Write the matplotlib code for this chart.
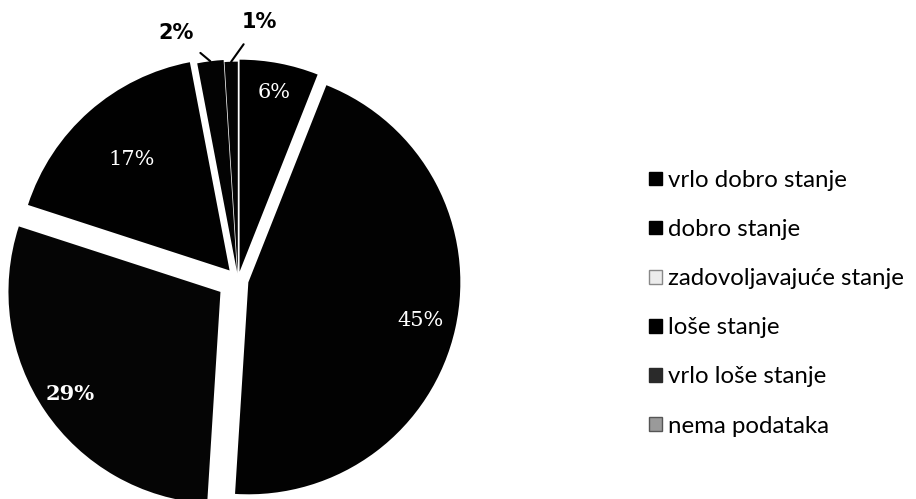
import matplotlib
matplotlib.use("Agg")
import matplotlib.pyplot as plt
import matplotlib.patches as mpatches
import numpy as np

categories = ["vrlo dobro stanje", "dobro stanje", "zadovoljavajuće stanje",
              "loše stanje", "vrlo loše stanje", "nema podataka"]
values = [6, 45, 29, 17, 2, 1]
pct_labels = ["6%", "45%", "29%", "17%", "2%", "1%"]

# styles
slice_colors = ["#000000", "#020202", "#050505", "#010101", "#030303", "#040404"]
legend_colors = ["#000000", "#000000", "#ececec", "#000000", "#2a2a2a", "#9a9a9a"]
legend_edges = ["#000000", "#000000", "#888888", "#000000", "#2a2a2a", "#555555"]
explode = [0.04, 0.05, 0.10, 0.06, 0.04, 0.03]
label_dist = [0.86, 0.83, 0.86, 0.70]
label_bold = [False, False, True, False]

W, H = 916, 499
fig = plt.figure(figsize=(W / 100, H / 100), dpi=100)
R = 212
cx, cy = 238, H - 280
ax = fig.add_axes([(cx - 1.2 * R) / W, (cy - 1.2 * R) / H, 2.4 * R / W, 2.4 * R / H])

wedges, _ = ax.pie(values, colors=slice_colors, startangle=90, counterclock=False,
                   explode=explode, radius=1.0,
                   wedgeprops=dict(linewidth=0))
ax.set_xlim(-1.2, 1.2)
ax.set_ylim(-1.2, 1.2)
ax.set_aspect("equal")
ax.axis("off")

for i, w in enumerate(wedges):
    mid = np.deg2rad((w.theta1 + w.theta2) / 2)
    ox, oy = w.center
    if i < 4:
        d = label_dist[i]
        ax.text(ox + d * np.cos(mid), oy + d * np.sin(mid), pct_labels[i],
                color="white", ha="center", va="center", fontsize=15,
                family="DejaVu Serif", fontweight="bold" if label_bold[i] else "normal")

# small slices with leader lines
tx = [(-0.29, 1.165), (0.10, 1.215)]
for k, i in enumerate([4, 5]):
    w = wedges[i]
    mid = np.deg2rad((w.theta1 + w.theta2) / 2)
    ox, oy = w.center
    ax.annotate(pct_labels[i], xy=(ox + 1.0 * np.cos(mid), oy + 1.0 * np.sin(mid)),
                xytext=tx[k], ha="center", va="center", fontsize=15,
                family="DejaVu Sans", fontweight="bold", color="black",
                arrowprops=dict(arrowstyle="-", color="black", lw=1.5,
                                shrinkA=8, shrinkB=0),
                annotation_clip=False)

handles = [mpatches.Patch(facecolor=c, edgecolor=e, label=l)
           for c, e, l in zip(legend_colors, legend_edges, categories)]
fig.legend(handles=handles, loc="upper left", bbox_to_anchor=(637 / W, 1 - 158 / H),
           frameon=False, borderpad=0, labelspacing=1.17, handlelength=0.53,
           handleheight=0.5, handletextpad=0.24,
           prop=dict(family="Lato", size=17.3))

fig.savefig("out.png", dpi=100)
